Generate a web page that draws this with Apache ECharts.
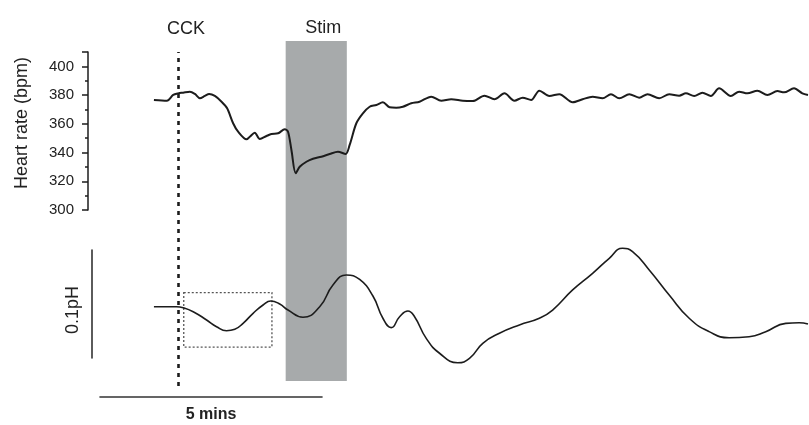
<!DOCTYPE html>
<html>
<head>
<meta charset="utf-8">
<script src="https://cdn.jsdelivr.net/npm/echarts@6/dist/echarts.min.js"></script>
<style>
    html, body { margin: 0; padding: 0; background: #fff; }
    #chart { width: 809px; height: 425px; }
</style>
</head>
<body>
<div id="chart"></div>
<script>
    // time axis in minutes (0 = start of the 5 min scale bar)
    let hrTime = [1.217, 1.510, 1.652, 1.764, 1.877, 2.028, 2.141, 2.254, 2.366, 2.463,
        2.592, 2.743, 2.869, 3.004, 3.117, 3.306, 3.380, 3.493, 3.606, 3.757,
        3.869, 4.018, 4.169, 4.243, 4.320, 4.417, 4.507, 4.658, 4.807, 4.996,
        5.183, 5.370, 5.544, 5.634, 5.785, 5.933, 6.085, 6.236, 6.384, 6.535,
        6.686, 6.835, 7.024, 7.211, 7.475, 7.700, 7.926, 8.187, 8.413, 8.676,
        8.901, 9.127, 9.352, 9.539, 9.729, 9.915, 10.141, 10.366, 10.666, 10.891,
        11.117, 11.342, 11.531, 11.718, 11.944, 12.169, 12.356, 12.620, 12.845, 13.070,
        13.221, 13.408, 13.595, 13.785, 13.972, 14.235, 14.423, 14.610, 14.835, 15.061,
        15.286, 15.437, 15.662, 15.850, 15.977];

    // 心率 bpm
    let hrValue = [376.6, 376.1, 380.1, 381.2, 381.7, 382.4, 380.8, 377.8, 379.4, 380.8,
        379.4, 375.4, 370.8, 360.4, 354.5, 349.2, 351.0, 353.8, 349.4, 351.5,
        352.9, 353.4, 356.2, 354.5, 341.8, 325.6, 330.1, 333.6, 335.7, 337.1,
        339.0, 340.6, 339.0, 345.3, 360.4, 367.3, 371.9, 373.1, 375.0, 371.5,
        371.2, 371.9, 374.3, 375.4, 378.9, 376.1, 377.1, 376.1, 375.9, 379.6,
        377.1, 381.2, 376.1, 378.2, 376.6, 383.1, 379.4, 380.6, 375.0, 377.1,
        378.9, 377.8, 380.6, 377.8, 380.6, 378.2, 380.6, 377.8, 380.6, 379.6,
        381.2, 379.4, 381.7, 379.4, 384.7, 379.4, 382.4, 381.2, 383.1, 380.1,
        382.8, 381.9, 384.7, 381.2, 380.1];

    let phTime = [1.217, 1.728, 1.877, 2.103, 2.405, 2.630, 2.855, 3.042, 3.229, 3.455,
        3.680, 3.854, 4.056, 4.243, 4.581, 4.958, 5.257, 5.559, 5.859, 6.159,
        6.384, 6.573, 6.761, 6.948, 7.099, 7.362, 7.662, 8.074, 8.338, 8.638,
        9.014, 9.465, 9.915, 10.215, 10.666, 11.117, 11.493, 11.793, 12.018, 12.394,
        12.845, 13.296, 13.746, 14.197, 14.648, 15.024, 15.475, 15.775, 15.977];

    // relative pH
    let phValue = [0.0475, 0.0475, 0.0466, 0.0429, 0.0352, 0.0290, 0.0253, 0.0266, 0.0321, 0.0414,
        0.0491, 0.0528, 0.0500, 0.0444, 0.0377, 0.0475, 0.0676, 0.0769, 0.0727, 0.0574,
        0.0368, 0.0281, 0.0382, 0.0435, 0.0382, 0.0182, 0.0044, -0.0044, -0.0003, 0.0136,
        0.0229, 0.0306, 0.0368, 0.0444, 0.0630, 0.0784, 0.0923, 0.1016, 0.0984, 0.0815,
        0.0583, 0.0368, 0.0244, 0.0188, 0.0197, 0.0244, 0.0321, 0.0327, 0.0315];

    let cckTime = 1.76;
    let stimTime = [4.19, 5.57];
    let boxTime = [1.89, 3.88];
    let boxPH = [0.0101, 0.0606];
    let scaleMins = 5;
    let scalePH = 0.1;
    let hrTicks = [300, 320, 340, 360, 380, 400];

    let timeMax = 16;
    let fontName = 'Liberation Sans, Arial, sans-serif';
    let ink = '#1c1c1c';

    function zip(a, b) {
        let res = [];
        for (let i = 0; i < a.length; i++) {
            res.push([a[i], b[i]]);
        }
        return res;
    }

    let myChart = echarts.init(document.getElementById('chart'), null, {renderer: 'canvas'});

    let hiddenX = function (gridIndex, max) {
        return {
            type: 'value', gridIndex: gridIndex, min: 0, max: max,
            show: false
        };
    };

    let option = {
        backgroundColor: '#fff',
        animation: false,
        textStyle: {fontFamily: fontName},
        grid: [
            // overlay for CCK line + Stim box
            {left: 100, width: 710, top: 41, height: 345},
            // heart rate
            {left: 100, width: 710, top: 52, height: 158},
            // pH
            {left: 100, width: 710, top: 250, height: 108},
            // 5 min scale bar
            {left: 100, width: 222, top: 380, height: 17}
        ],
        xAxis: [
            hiddenX(0, timeMax),
            hiddenX(1, timeMax),
            hiddenX(2, timeMax),
            {
                type: 'value', gridIndex: 3, min: 0, max: scaleMins,
                axisLine: {show: true, onZero: false, lineStyle: {color: '#333', width: 1.6}},
                axisTick: {show: false},
                axisLabel: {show: false},
                splitLine: {show: false},
                name: scaleMins + ' mins',
                nameLocation: 'middle',
                nameGap: 10,
                nameTextStyle: {color: '#222', fontSize: 16, fontWeight: 'bold', fontFamily: fontName}
            }
        ],
        yAxis: [
            {type: 'value', gridIndex: 0, min: 0, max: 1, show: false},
            {
                type: 'value', gridIndex: 1, min: 300, max: 410, interval: 10,
                position: 'left',
                offset: 12,
                axisLine: {show: true, onZero: false, lineStyle: {color: ink, width: 1.5}},
                axisTick: {show: true, length: 3, lineStyle: {color: ink, width: 1.5}},
                axisLabel: {
                    margin: 14,
                    color: '#222',
                    fontSize: 15,
                    fontFamily: fontName,
                    formatter: function (v) {
                        return hrTicks.indexOf(v) > -1 ? String(v) : '';
                    }
                },
                splitLine: {show: false},
                name: 'Heart rate (bpm)',
                nameLocation: 'middle',
                nameRotate: 90,
                nameGap: 57,
                nameTextStyle: {color: '#222', fontSize: 18, fontFamily: fontName, padding: [0, 0, 0, 16]}
            },
            {
                // longer ticks on labelled values
                type: 'value', gridIndex: 1, min: 300, max: 410, interval: 20,
                position: 'left',
                offset: 12,
                axisLine: {show: false, onZero: false},
                axisTick: {show: true, length: 6, lineStyle: {color: ink, width: 1.5}},
                axisLabel: {show: false},
                splitLine: {show: false}
            },
            {
                type: 'value', gridIndex: 2, min: 0, max: scalePH,
                position: 'left',
                offset: 8,
                axisLine: {show: true, onZero: false, lineStyle: {color: '#333', width: 1.6}},
                axisTick: {show: false},
                axisLabel: {show: false},
                splitLine: {show: false},
                name: scalePH + 'pH',
                nameLocation: 'middle',
                nameRotate: 90,
                nameGap: 10,
                nameTextStyle: {color: '#222', fontSize: 18, fontFamily: fontName, padding: [0, 12, 0, 0]}
            },
            {type: 'value', gridIndex: 3, min: 0, max: 1, show: false}
        ],
        series: [
            {
                name: 'markers',
                type: 'line',
                xAxisIndex: 0,
                yAxisIndex: 0,
                data: [],
                z: 1,
                silent: true,
                markArea: {
                    silent: true,
                    itemStyle: {color: '#a7aaab'},
                    label: {
                        show: true,
                        position: 'top',
                        distance: 4,
                        color: '#222',
                        fontSize: 18,
                        fontFamily: fontName,
                        padding: [0, 0, 0, 14]
                    },
                    data: [[
                        {name: 'Stim', coord: [stimTime[0], 0.0145]},
                        {coord: [stimTime[1], 1]}
                    ]]
                },
                markLine: {
                    silent: true,
                    symbol: ['none', 'none'],
                    lineStyle: {color: ink, width: 2.6, type: [4, 5]},
                    label: {
                        show: true,
                        position: 'end',
                        distance: 14,
                        formatter: 'CCK',
                        color: '#222',
                        fontSize: 18,
                        fontFamily: fontName,
                        padding: [0, 0, 0, 16]
                    },
                    data: [[
                        {coord: [cckTime, 0]},
                        {coord: [cckTime, 0.968]}
                    ]]
                }
            },
            {
                name: 'Heart rate',
                type: 'line',
                xAxisIndex: 1,
                yAxisIndex: 1,
                data: zip(hrTime, hrValue),
                showSymbol: false,
                smooth: 0.3,
                clip: false,
                z: 5,
                lineStyle: {color: ink, width: 2}
            },
            {
                name: 'pH',
                type: 'line',
                xAxisIndex: 2,
                yAxisIndex: 3,
                data: zip(phTime, phValue),
                showSymbol: false,
                smooth: 0.5,
                clip: false,
                z: 5,
                lineStyle: {color: ink, width: 1.6},
                markArea: {
                    silent: true,
                    itemStyle: {color: 'rgba(0,0,0,0)', borderColor: '#555', borderWidth: 1.3, borderType: [2, 2]},
                    data: [[
                        {coord: [boxTime[0], boxPH[1]]},
                        {coord: [boxTime[1], boxPH[0]]}
                    ]]
                }
            }
        ]
    };

    myChart.setOption(option);
</script>
</body>
</html>
